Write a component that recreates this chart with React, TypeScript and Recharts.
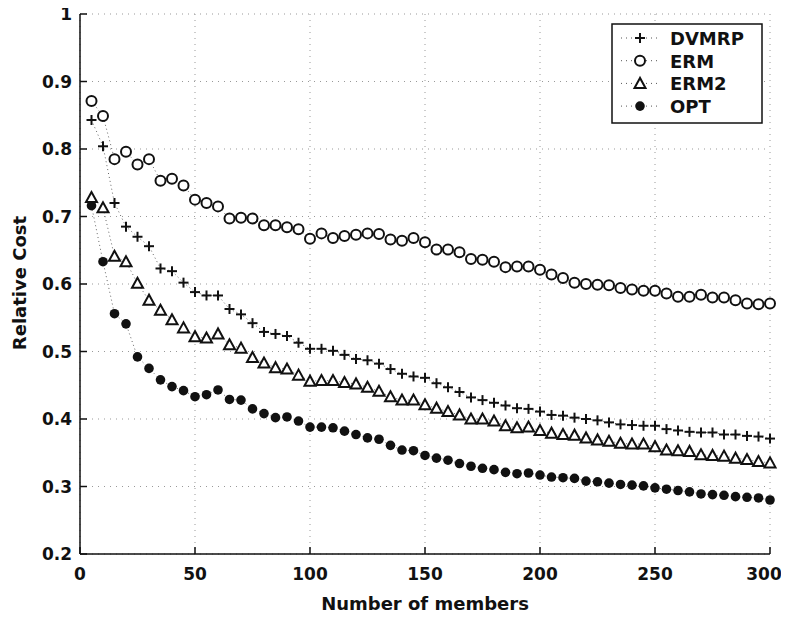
import React from 'react';
import { LineChart, Line, XAxis, YAxis, CartesianGrid, Legend } from 'recharts';

const members = [
  5, 10, 15, 20, 25, 30, 35, 40, 45, 50, 55, 60, 65, 70, 75, 80, 85, 90, 95, 100,
  105, 110, 115, 120, 125, 130, 135, 140, 145, 150, 155, 160, 165, 170, 175, 180, 185, 190, 195, 200,
  205, 210, 215, 220, 225, 230, 235, 240, 245, 250, 255, 260, 265, 270, 275, 280, 285, 290, 295, 300,
];

const dvmrp = [
  0.843, 0.804, 0.72, 0.685, 0.67, 0.656, 0.623, 0.619, 0.602, 0.588, 0.583, 0.583, 0.563, 0.555, 0.542, 0.529, 0.526, 0.523, 0.513, 0.504,
  0.504, 0.501, 0.495, 0.489, 0.487, 0.482, 0.474, 0.467, 0.463, 0.461, 0.453, 0.447, 0.44, 0.432, 0.428, 0.424, 0.42, 0.416, 0.415, 0.411,
  0.406, 0.405, 0.402, 0.4, 0.398, 0.395, 0.392, 0.391, 0.39, 0.39, 0.385, 0.383, 0.381, 0.38, 0.38, 0.377, 0.377, 0.375, 0.374, 0.371,
];

const erm = [
  0.871, 0.849, 0.785, 0.796, 0.777, 0.785, 0.753, 0.756, 0.746, 0.725, 0.72, 0.715, 0.697, 0.698, 0.697, 0.687, 0.687, 0.684, 0.681, 0.667,
  0.675, 0.668, 0.671, 0.673, 0.675, 0.674, 0.666, 0.664, 0.668, 0.662, 0.651, 0.651, 0.647, 0.637, 0.636, 0.633, 0.625, 0.626, 0.626, 0.621,
  0.614, 0.609, 0.602, 0.6, 0.599, 0.598, 0.594, 0.592, 0.59, 0.59, 0.586, 0.581, 0.581, 0.584, 0.58, 0.58, 0.576, 0.571, 0.57, 0.571,
];

const erm2 = [
  0.728, 0.713, 0.641, 0.633, 0.601, 0.576, 0.561, 0.547, 0.535, 0.522, 0.52, 0.526, 0.51, 0.505, 0.491, 0.483, 0.476, 0.474, 0.465, 0.456,
  0.457, 0.457, 0.454, 0.452, 0.447, 0.441, 0.433, 0.428, 0.428, 0.421, 0.416, 0.411, 0.406, 0.4, 0.4, 0.397, 0.39, 0.387, 0.388, 0.383,
  0.379, 0.377, 0.376, 0.372, 0.369, 0.367, 0.364, 0.363, 0.363, 0.359, 0.354, 0.353, 0.352, 0.347, 0.346, 0.345, 0.342, 0.34, 0.337, 0.335,
];

const opt = [
  0.716, 0.633, 0.556, 0.541, 0.492, 0.475, 0.458, 0.448, 0.442, 0.433, 0.436, 0.443, 0.429, 0.428, 0.415, 0.408, 0.402, 0.403, 0.397, 0.388,
  0.388, 0.387, 0.382, 0.377, 0.372, 0.37, 0.361, 0.354, 0.353, 0.346, 0.342, 0.339, 0.334, 0.33, 0.327, 0.325, 0.321, 0.319, 0.32, 0.317,
  0.314, 0.313, 0.312, 0.308, 0.307, 0.305, 0.303, 0.302, 0.301, 0.298, 0.296, 0.294, 0.292, 0.289, 0.288, 0.287, 0.285, 0.284, 0.283, 0.28,
];

const xTicks = [0, 50, 100, 150, 200, 250, 300];
const yTicks = [0.2, 0.3, 0.4, 0.5, 0.6, 0.7, 0.8, 0.9, 1];
const seriesNames = ['DVMRP', 'ERM', 'ERM2', 'OPT'];

const data = members.map((m, i) => ({
  m,
  DVMRP: dvmrp[i],
  ERM: erm[i],
  ERM2: erm2[i],
  OPT: opt[i],
}));

const FONT = '"DejaVu Sans", Arial, sans-serif';
const INK = '#111';

// marker shapes
const Plus = ({ cx, cy }: any) => (
  <g stroke={INK} strokeWidth={2}>
    <line x1={cx - 5} x2={cx + 5} y1={cy} y2={cy} />
    <line x1={cx} x2={cx} y1={cy - 5} y2={cy + 5} />
  </g>
);
const Ring = ({ cx, cy }: any) => (
  <circle cx={cx} cy={cy} r={5} fill="#fff" stroke={INK} strokeWidth={2} />
);
const Tri = ({ cx, cy }: any) => (
  <polygon
    points={`${cx},${cy - 5.5} ${cx - 5.5},${cy + 4.5} ${cx + 5.5},${cy + 4.5}`}
    fill="#fff"
    stroke={INK}
    strokeWidth={2}
  />
);
const Dot = ({ cx, cy }: any) => <circle cx={cx} cy={cy} r={4.8} fill={INK} />;

const markers: Record<string, React.FC<any>> = { DVMRP: Plus, ERM: Ring, ERM2: Tri, OPT: Dot };

const renderLegend = () => (
  <svg width={152} height={101} style={{ display: 'block' }}>
    <rect x={1} y={1} width={150} height={99} fill="#fff" stroke={INK} strokeWidth={1.5} />
    {seriesNames.map((name, i) => {
      const y = 15 + i * 22.7;
      const M = markers[name];
      return (
        <g key={name}>
          <line x1={10} x2={46} y1={y} y2={y} stroke="#555" strokeDasharray="1 4" />
          <M cx={29} cy={y} />
          <text x={59} y={y + 7} fontFamily={FONT} fontWeight="bold" fontSize={18} fill={INK}>
            {name}
          </text>
        </g>
      );
    })}
  </svg>
);

const tickStyle = { fontFamily: FONT, fontWeight: 'bold' as const, fontSize: 17, fill: INK };

// x tick: the last label sits at the page edge, nudge it so it stays on screen
const XTick = ({ x, y, payload }: any) => (
  <text
    x={payload.value === 300 ? x - 6 : x}
    y={y}
    dy="0.75em"
    textAnchor="middle"
    {...tickStyle}
  >
    {payload.value}
  </text>
);

const labelStyle: React.CSSProperties = {
  position: 'absolute',
  whiteSpace: 'nowrap',
  fontFamily: FONT,
  fontWeight: 'bold',
  fontSize: 18,
  color: INK,
  lineHeight: '20px',
};

export default function App() {
  return (
    <div style={{ position: 'relative', width: 789, height: 623, margin: -8, overflow: 'hidden' }}>
      <LineChart
        width={789}
        height={623}
        data={data}
        margin={{ top: 14, right: 19, left: 20, bottom: 19 }}
      >
        <CartesianGrid stroke="#999" strokeDasharray="1 5" />
        <XAxis
          dataKey="m"
          type="number"
          domain={[0, 300]}
          ticks={xTicks}
          height={50}
          tickSize={-7}
          tickMargin={20}
          axisLine={{ stroke: INK, strokeWidth: 1.5 }}
          tickLine={{ stroke: INK, strokeWidth: 1.5 }}
          tick={<XTick />}
        />
        <XAxis
          xAxisId="top"
          orientation="top"
          type="number"
          domain={[0, 300]}
          ticks={xTicks}
          height={0}
          tickSize={-7}
          tick={false}
          axisLine={{ stroke: INK, strokeWidth: 1.5 }}
          tickLine={{ stroke: INK, strokeWidth: 1.5 }}
        />
        <YAxis
          type="number"
          domain={[0.2, 1]}
          ticks={yTicks}
          width={60}
          tickSize={-7}
          tickMargin={15}
          axisLine={{ stroke: INK, strokeWidth: 1.5 }}
          tickLine={{ stroke: INK, strokeWidth: 1.5 }}
          tick={tickStyle}
        />
        <YAxis
          yAxisId="right"
          orientation="right"
          type="number"
          domain={[0.2, 1]}
          ticks={yTicks}
          width={0}
          tickSize={-7}
          tick={false}
          axisLine={{ stroke: INK, strokeWidth: 1.5 }}
          tickLine={{ stroke: INK, strokeWidth: 1.5 }}
        />
        <Legend
          layout="horizontal"
          verticalAlign="middle"
          align="center"
          content={renderLegend}
          wrapperStyle={{ position: 'absolute', left: 611, top: 23, width: 152, height: 101 }}
        />
        {seriesNames.map((name) => {
          const M = markers[name];
          return (
            <Line
              key={name}
              dataKey={name}
              stroke="#666"
              strokeWidth={1}
              strokeDasharray="1 3"
              dot={(p: any) => <M key={`${name}-${p.index}`} cx={p.cx} cy={p.cy} />}
              activeDot={false}
              isAnimationActive={false}
            />
          );
        })}
      </LineChart>
      <div style={{ ...labelStyle, left: 425, top: 594, transform: 'translateX(-50%)' }}>
        Number of members
      </div>
      <div
        style={{
          ...labelStyle,
          left: 20,
          top: 283,
          transform: 'translate(-50%, -50%) rotate(-90deg)',
        }}
      >
        Relative Cost
      </div>
    </div>
  );
}
